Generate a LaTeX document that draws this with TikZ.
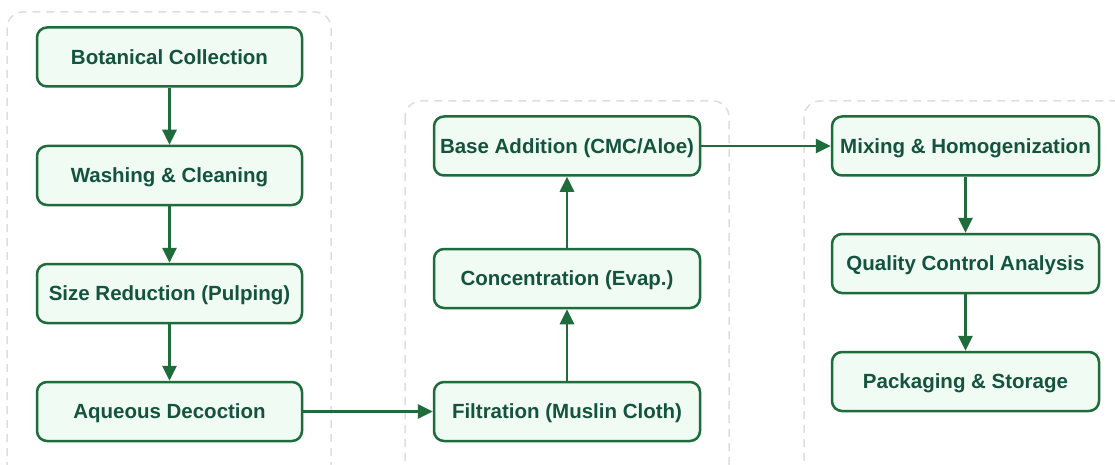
\documentclass[tikz,border=0pt]{standalone}
\usepackage{fontspec}
\setmainfont{Liberation Sans}
\usetikzlibrary{arrows.meta}
\definecolor{bord}{HTML}{1E6B3C}
\definecolor{boxfill}{HTML}{EFFBF3}
\definecolor{txt}{HTML}{14533F}
\definecolor{grp}{HTML}{DEDEDE}
\begin{document}
\begin{tikzpicture}[x=1pt,y=-1pt,
  box/.style={draw=bord, line width=2.5pt, fill=boxfill, rounded corners=10pt,
    minimum width=265pt, minimum height=59pt, inner sep=0pt,
    text height=14.7pt, text depth=0pt,
    font=\fontsize{20.5}{24}\selectfont\bfseries, text=txt},
  flow/.style={draw=bord, line width=2.7pt, -{Triangle[length=15pt,width=14pt]}},
  group/.style={draw=grp, line width=1.5pt, dash pattern=on 8pt off 6pt, rounded corners=16pt}]
\useasboundingbox (0,0) rectangle (1115,465);
\fill[white] (0,0) rectangle (1115,465);
\draw[group] (7,12) rectangle (331,500);
\draw[group] (405,101) rectangle (729,500);
\draw[group] (804,101) rectangle (1140,500);

\node[box] (bc) at (169.5,57) {Botanical Collection};
\node[box] (wc) at (169.5,175.5) {Washing \& Cleaning};
\node[box] (sr) at (169.5,293.5) {Size Reduction (Pulping)};
\node[box] (ad) at (169.5,411.5) {Aqueous Decoction};

\node[box, minimum width=266pt] (fm) at (567,411.5) {Filtration (Muslin Cloth)};
\node[box, minimum width=266pt] (ce) at (567,278.5) {Concentration (Evap.)};
\node[box, minimum width=266pt] (ba) at (567,146) {Base Addition (CMC/Aloe)};

\node[box, minimum width=267pt] (mh) at (965.5,146) {Mixing \& Homogenization};
\node[box, minimum width=267pt] (qc) at (965.5,263.5) {Quality Control Analysis};
\node[box, minimum width=267pt] (ps) at (965.5,381.5) {Packaging \& Storage};

\draw[flow] (bc) -- (wc);
\draw[flow] (wc) -- (sr);
\draw[flow] (sr) -- (ad);
\draw[flow] (ad) -- (fm);
\draw[flow] (fm) -- (ce);
\draw[flow] (ce) -- (ba);
\draw[flow] (ba) -- (mh);
\draw[flow] (mh) -- (qc);
\draw[flow] (qc) -- (ps);
\end{tikzpicture}
\end{document}
